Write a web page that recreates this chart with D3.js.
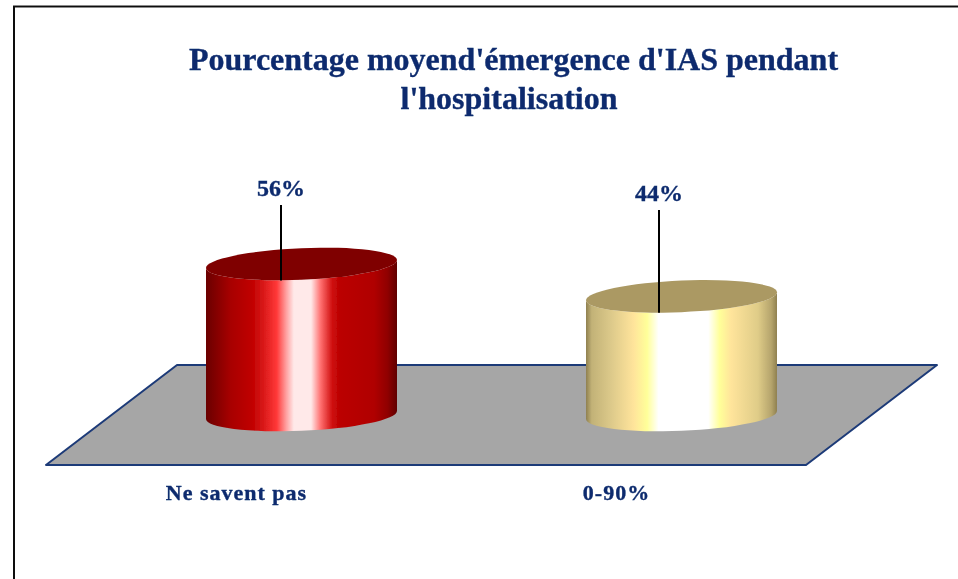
<!DOCTYPE html>
<html>
<head>
<meta charset="utf-8">
<script src="https://cdn.jsdelivr.net/npm/d3@7"></script>
<style>
  html, body { margin: 0; background: #fff; overflow: hidden; }
  text { font-family: "Liberation Serif", serif; font-weight: bold; fill: #0c2c6e; stroke: #0c2c6e; stroke-width: 0.35px; }
</style>
</head>
<body>
<svg></svg>
<script>
const categories = ["Ne savent pas", "0-90%"];
const values = [56, 44];
const valueLabels = ["56%", "44%"];
const titleLines = ["Pourcentage moyend'émergence d'IAS pendant", "l'hospitalisation"];

const width = 958;
const height = 579;
const radiusX = 95.5;
const radiusY = 15.8;
const tilt = 0.042; // the whole cylinder leans up to the right
const floorDepth = 50;
const leaderTops = [205, 210];
const leaderOffsets = [-20.5, -22.5];
const titleCenters = [513.5, 509];

const xScale = d3.scalePoint().domain(categories).range([301.5, 681.5]);
const yScale = d3.scaleLinear().domain([0, 56]).range([415, 264]);

const svg = d3.select("svg").attr("width", width).attr("height", height);

const defs = svg.append("defs");
// the reference is a slightly soft screenshot
defs.append("filter")
  .attr("id", "soft")
  .append("feGaussianBlur")
  .attr("stdDeviation", 0.45);

// gradients for the cylinder sides
const redStops = [
  [0, "#6a0000"], [0.13, "#a80000"], [0.24, "#c00000"], [0.3, "#d81818"], [0.37, "#ff3838"],
  [0.42, "#ffa0a0"], [0.46, "#ffe9e9"], [0.55, "#ffe9e9"], [0.6, "#ff7070"], [0.66, "#d01010"],
  [0.7, "#bb0000"], [0.88, "#b00000"], [0.95, "#900000"], [1, "#600000"]
];
const goldStops = [
  [0, "#8f8050"], [0.03, "#c2b277"], [0.13, "#dcc98a"], [0.25, "#ffe49b"], [0.32, "#ffff99"],
  [0.38, "#ffffff"], [0.64, "#ffffff"], [0.7, "#ffff99"], [0.76, "#ffe49b"], [0.9, "#dfcc88"],
  [0.97, "#b5a46c"], [1, "#8f8050"]
];
const sideStops = [redStops, goldStops];
const topColors = ["#7f0000", "#ab9964"];

sideStops.forEach(function (stops, i) {
  defs.append("linearGradient")
    .attr("id", "side" + i)
    .selectAll("stop")
    .data(stops)
    .enter()
    .append("stop")
    .attr("offset", (d) => d[0])
    .attr("stop-color", (d) => d[1]);
});

const chart = svg.append("g").attr("filter", "url(#soft)");

// frame
chart.append("path")
  .attr("d", "M14,579V6.5H958")
  .attr("fill", "none")
  .attr("stroke", "#111")
  .attr("stroke-width", 2);

// floor
const x0 = xScale(categories[0]);
const x1 = xScale(categories[1]);
const y0 = yScale(0);
chart.append("polygon")
  .attr("points", [
    [x0 - 255.5, y0 + floorDepth],
    [x1 + 124.5, y0 + floorDepth],
    [x1 + 255.5, y0 - floorDepth],
    [x0 - 124.5, y0 - floorDepth]
  ].join(" "))
  .attr("fill", "#a6a6a6")
  .attr("stroke", "#1d3a78")
  .attr("stroke-width", 2)
  .attr("stroke-linejoin", "round");

// cylinders
const bars = chart.selectAll(".bar")
  .data(categories)
  .enter()
  .append("g")
  .attr("class", "bar")
  .attr("transform", (d) => "translate(" + xScale(d) + ",0) matrix(1," + -tilt + ",0,1,0,0)");

bars.append("path")
  .attr("fill", (d, i) => "url(#side" + i + ")")
  .attr("d", function (d, i) {
    const top = yScale(values[i]);
    return "M" + -radiusX + "," + top +
      "A" + radiusX + "," + radiusY + " 0 0 0 " + radiusX + "," + top +
      "L" + radiusX + "," + y0 +
      "A" + radiusX + "," + radiusY + " 0 0 1 " + -radiusX + "," + y0 + "Z";
  });

bars.append("ellipse")
  .attr("cy", (d, i) => yScale(values[i]))
  .attr("rx", radiusX)
  .attr("ry", radiusY)
  .attr("fill", (d, i) => topColors[i]);

// leader lines and value labels
chart.selectAll(".leader")
  .data(categories)
  .enter()
  .append("line")
  .attr("class", "leader")
  .attr("x1", (d, i) => xScale(d) + leaderOffsets[i])
  .attr("x2", (d, i) => xScale(d) + leaderOffsets[i])
  .attr("y1", (d, i) => leaderTops[i])
  .attr("y2", (d, i) => yScale(values[i]) + 16.5)
  .attr("stroke", "#000")
  .attr("stroke-width", 2);

chart.selectAll(".value")
  .data(categories)
  .enter()
  .append("text")
  .attr("class", "value")
  .attr("x", (d, i) => xScale(d) + leaderOffsets[i])
  .attr("y", (d, i) => leaderTops[i] - 9)
  .attr("text-anchor", "middle")
  .attr("font-size", 24)
  .text((d, i) => valueLabels[i]);

// category labels
chart.selectAll(".cat")
  .data(categories)
  .enter()
  .append("text")
  .attr("class", "cat")
  .attr("x", (d) => xScale(d) - 65)
  .attr("y", y0 + 85)
  .attr("text-anchor", "middle")
  .attr("font-size", 22)
  .attr("letter-spacing", 1)
  .text((d) => d);

// title
chart.selectAll(".title")
  .data(titleLines)
  .enter()
  .append("text")
  .attr("class", "title")
  .attr("x", (d, i) => titleCenters[i])
  .attr("y", (d, i) => 69.5 + i * 39)
  .attr("text-anchor", "middle")
  .attr("font-size", 32)
  .text((d) => d);
</script>
</body>
</html>
